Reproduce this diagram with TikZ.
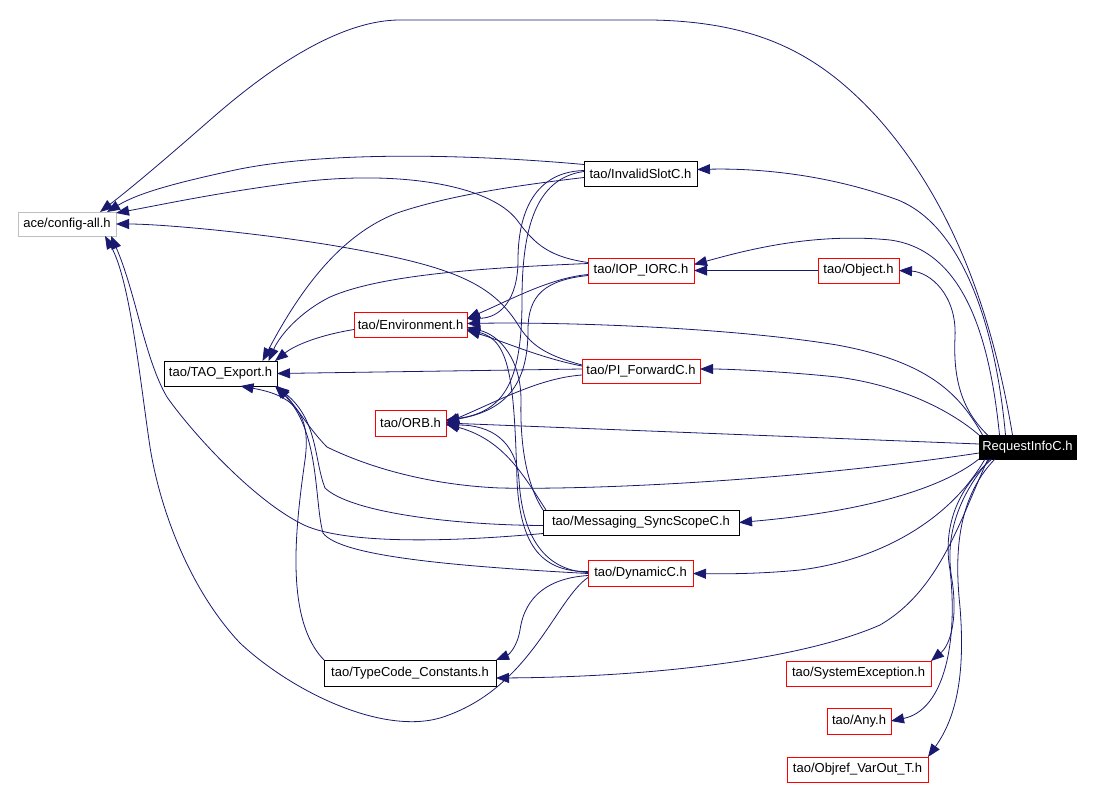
\documentclass[tikz,border=0pt]{standalone}
\usepackage{fontspec}
\setmainfont{Liberation Sans}
\usetikzlibrary{arrows.meta}
\definecolor{edgeblue}{RGB}{25,25,112}

\begin{document}
\begin{tikzpicture}[
  x=1pt, y=-1pt,
  header/.style={draw, rectangle, fill=white, minimum height=25pt, inner xsep=3pt, inner ysep=0pt,
    outer sep=0pt, font=\fontsize{13}{15}\selectfont},
  trunc/.style={header, draw=red},
  root/.style={header, fill=black, text=white},
  dep/.style={edgeblue, line width=0.8pt, -{Triangle[length=13pt,width=10pt]}},
]

\useasboundingbox (0,0) rectangle (1094,787);

\node (A) [header, draw=gray!50, minimum width=98pt, minimum height=24pt] at (67,224) {ace/config-all.h};
\node (TE) [header, minimum width=113pt] at (220.5,373.5) {tao/TAO\_Export.h};
\node (IS) [header, minimum width=113pt] at (640.5,173.5) {tao/InvalidSlotC.h};
\node (IOP) [trunc, minimum width=106pt] at (641,270.5) {tao/IOP\_IORC.h};
\node (OB) [trunc, minimum width=81pt] at (858.5,270.5) {tao/Object.h};
\node (ENV) [trunc, minimum width=113pt] at (410.5,324.5) {tao/Environment.h};
\node (PI) [trunc, minimum width=118pt, minimum height=24pt] at (641,371) {tao/PI\_ForwardC.h};
\node (ORB) [trunc, minimum width=71pt, minimum height=26pt] at (410.5,423) {tao/ORB.h};
\node (R) [root, minimum width=97pt, minimum height=24pt] at (1027.5,447) {RequestInfoC.h};
\node (MS) [header, minimum width=196pt] at (641,522.5) {tao/Messaging\_SyncScopeC.h};
\node (DY) [trunc, minimum width=105pt, minimum height=26pt] at (640.5,573.5) {tao/DynamicC.h};
\node (TC) [header, minimum width=172pt, minimum height=26pt] at (410,673) {tao/TypeCode\_Constants.h};
\node (SE) [trunc, minimum width=145pt] at (858.5,673.5) {tao/SystemException.h};
\node (ANY) [trunc, minimum width=64pt, minimum height=26pt] at (859,721) {tao/Any.h};
\node (OV) [trunc, minimum width=141pt] at (857.5,769.5) {tao/Objref\_VarOut\_T.h};

% RequestInfoC.h
\draw[dep] ([xshift=-15pt]R.north) .. controls (995,330) and (960,210) .. (877,117)
  .. controls (820,55) and (760,22) .. (652,20) -- (400,20)
  .. controls (330,20) and (250,85) .. (210,120) .. controls (170,155) and (135,185) .. ([xshift=33pt]A.north);
\draw[dep] ([xshift=-22pt]R.north) .. controls (995,320) and (960,225) .. (898,200)
  .. controls (830,175) and (760,168) .. ([yshift=4pt]IS.east);
\draw[dep] ([xshift=-28pt]R.north) .. controls (990,340) and (965,250) .. (890,240)
  .. controls (810,232) and (740,252) .. ([yshift=6pt]IOP.east);
\draw[dep] ([xshift=-40pt]R.north) .. controls (962,410) and (953,380) .. (955,337)
  .. controls (957,295) and (930,272) .. (OB.east);
\draw[dep] ([xshift=-45pt]R.north) .. controls (960,395) and (930,362) .. (837,345)
  .. controls (720,326) and (550,322) .. ([yshift=1pt]ENV.east);
\draw[dep] (R.north west) .. controls (950,410) and (900,385) .. (837,377)
  .. controls (790,372) and (730,369) .. ([yshift=2pt]PI.east);
\draw[dep] ([yshift=3pt]R.west) -- (ORB.east);
\draw[dep] ([yshift=-6pt]R.west) .. controls (800,480) and (600,490) .. (500,488)
  .. controls (430,485) and (370,468) .. (327,447) .. controls (310,430) and (295,405) .. (TE.south east);
\draw[dep] (R.south west) .. controls (940,490) and (860,512) .. (MS.east);
\draw[dep] ([xshift=6pt]R.south west) .. controls (950,520) and (880,560) .. (800,570)
  .. controls (760,574) and (720,574) .. (DY.east);
\draw[dep] ([xshift=9pt]R.south west) .. controls (960,520) and (940,590) .. (880,625)
  .. controls (800,660) and (650,677) .. ([yshift=-5pt]TC.east);
\draw[dep] ([xshift=11pt]R.south west) .. controls (955,500) and (945,540) .. (952,580)
  .. controls (958,620) and (950,645) .. (SE.north east);
\draw[dep] ([xshift=13pt]R.south west) .. controls (955,490) and (943,530) .. (950,570)
  .. controls (958,640) and (945,710) .. (ANY.east);
\draw[dep] ([xshift=16pt]R.south west) .. controls (955,500) and (955,560) .. (960,607)
  .. controls (965,670) and (958,715) .. (OV.north east);

\draw[dep] (OB.west) -- (IOP.east);

% tao/InvalidSlotC.h
\draw[dep] ([yshift=9pt]IS.west) .. controls (480,155) and (330,150) .. (235,170)
  .. controls (180,182) and (140,192) .. ([xshift=40pt]A.north);
\draw[dep] ([yshift=3pt]IS.west) .. controls (530,172) and (518,220) .. (518,260)
  .. controls (518,300) and (500,318) .. ([yshift=6pt]ENV.east);
\draw[dep] ([yshift=2pt]IS.west) .. controls (535,178) and (522,230) .. (522,300)
  .. controls (522,380) and (505,412) .. ([yshift=3pt]ORB.east);
\draw[dep] ([yshift=-4pt]IS.west) .. controls (520,185) and (450,195) .. (397,213)
  .. controls (340,235) and (300,290) .. ([xshift=42pt]TE.north);

% tao/IOP_IORC.h
\draw[dep] ([yshift=8pt]IOP.west) .. controls (550,257) and (535,245) .. (517,220)
  .. controls (490,185) and (400,170) .. (300,182) .. controls (220,192) and (160,205) .. ([yshift=11pt]A.east);
\draw[dep] ([yshift=7pt]IOP.west) .. controls (480,268) and (380,275) .. (330,297)
  .. controls (300,312) and (280,335) .. ([xshift=48pt]TE.north);
\draw[dep] ([yshift=-4pt]IOP.west) .. controls (550,278) and (510,300) .. ([yshift=6pt]ENV.east);
\draw[dep] ([yshift=-5pt]IOP.west) .. controls (545,280) and (528,295) .. (528,330)
  .. controls (528,380) and (510,410) .. ([yshift=2pt]ORB.east);

% tao/PI_ForwardC.h
\draw[dep] ([yshift=6pt]PI.west) .. controls (545,355) and (530,345) .. (517,323)
  .. controls (490,282) and (450,265) .. (330,245) .. controls (250,232) and (160,224) .. (A.east);
\draw[dep] ([yshift=5pt]PI.west) .. controls (540,358) and (500,340) .. ([yshift=-6pt]ENV.east);
\draw[dep] ([yshift=2pt]PI.west) -- (TE.east);
\draw[dep] ([yshift=-4pt]PI.west) .. controls (540,378) and (500,400) .. (ORB.east);

\draw[dep] ([yshift=-5pt]ENV.west) .. controls (320,335) and (295,345) .. ([xshift=-2pt]TE.north east);

% tao/Messaging_SyncScopeC.h
\draw[dep] ([yshift=-11pt]MS.west) .. controls (450,542) and (340,545) .. (300,523)
  .. controls (250,497) and (190,430) .. (167,397) .. controls (145,360) and (135,290) .. ([xshift=44pt]A.south);
\draw[dep] ([yshift=-3pt]MS.west) .. controls (450,525) and (350,512) .. (325,488)
  .. controls (314,460) and (318,420) .. ([xshift=-1pt]TE.south east);
\draw[dep] (MS.north west) .. controls (525,482) and (520,440) .. (521,400)
  .. controls (521,360) and (500,335) .. ([yshift=-3pt]ENV.east);
\draw[dep] ([xshift=3pt]MS.north west) .. controls (525,478) and (505,440) .. ([yshift=-1pt]ORB.east);

% tao/DynamicC.h
\draw[dep] ([yshift=-4pt]DY.west) .. controls (555,600) and (530,690) .. (440,718)
  .. controls (380,735) and (290,690) .. (240,643) .. controls (190,590) and (160,510) .. (150,447)
  .. controls (140,380) and (130,280) .. ([xshift=38pt]A.south);
\draw[dep] (DY.west) .. controls (450,566) and (340,556) .. (323,533)
  .. controls (314,500) and (320,430) .. ([xshift=-2pt]TE.south east);
\draw[dep] ([yshift=2pt]DY.west) .. controls (545,572) and (520,550) .. (517,480)
  .. controls (514,380) and (510,340) .. ([yshift=-5pt]ENV.east);
\draw[dep] ([yshift=1pt]DY.west) .. controls (540,570) and (522,530) .. (519,480)
  .. controls (516,440) and (490,425) .. ([yshift=-2pt]ORB.east);
\draw[dep] ([yshift=-2pt]DY.west) .. controls (550,578) and (525,595) .. (520,630)
  .. controls (517,648) and (508,655) .. (TC.north east);

\draw[dep] (TC.north west) .. controls (285,620) and (295,530) .. (305,460)
  .. controls (312,410) and (290,395) .. ([xshift=20pt]TE.south);

\end{tikzpicture}
\end{document}
